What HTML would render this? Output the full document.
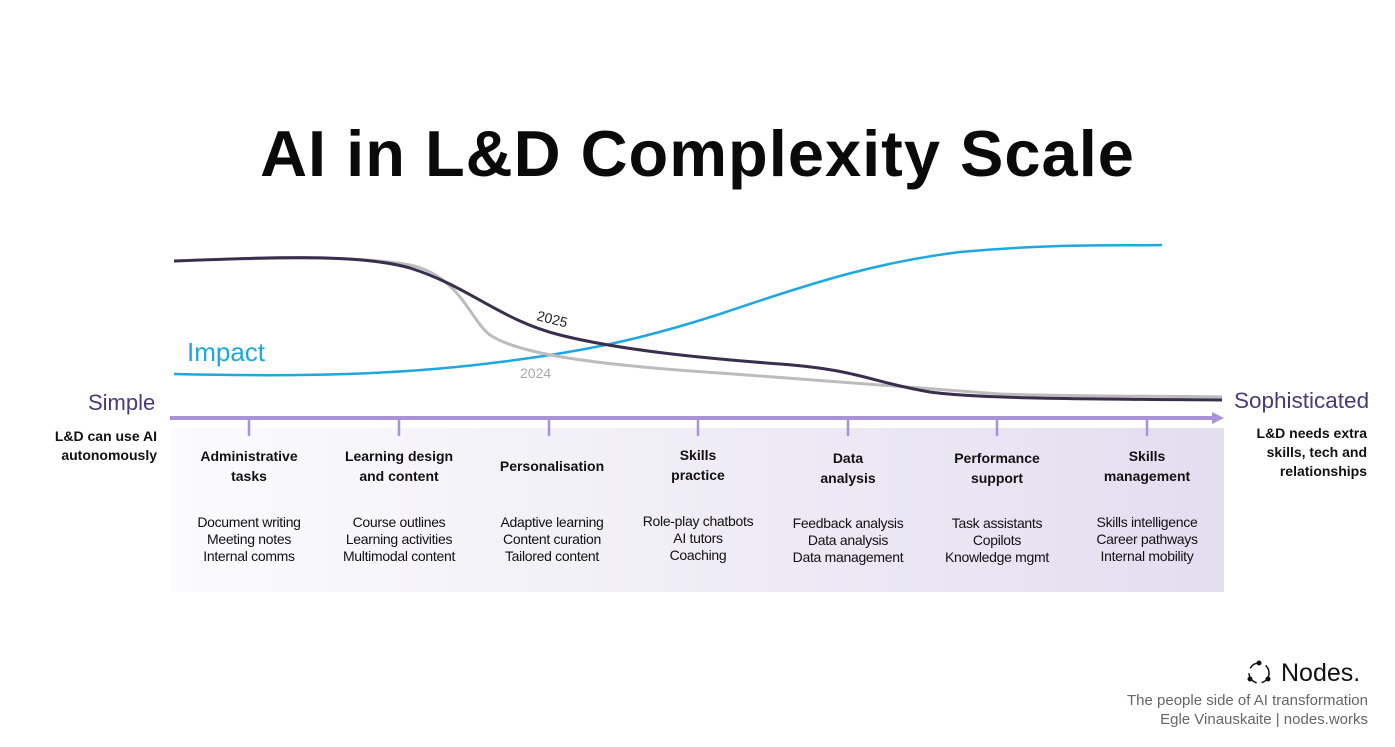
<!DOCTYPE html>
<html><head><meta charset="utf-8"><style>
body{margin:0;width:1395px;height:747px;background:#fff;position:relative;overflow:hidden;font-family:"Liberation Sans",sans-serif}
.a{position:absolute}
.h{font-weight:bold;font-size:14px;color:#111;text-align:center;line-height:20px;width:150px}
.i{font-size:14px;color:#111;text-align:center;line-height:17px;width:150px;letter-spacing:-0.3px}
</style></head><body>
<div class="a" style="left:0;width:1395px;top:116px;text-align:center;font-size:65px;font-weight:bold;color:#0a0a0a;letter-spacing:1px">AI in L&amp;D Complexity Scale</div>
<div class="a" style="left:170px;top:428px;width:1054px;height:164px;background:linear-gradient(90deg,#fbfbfd,#e3def0)"></div>
<svg class="a" style="left:0;top:0" width="1395" height="747">
<path d="M174,374 C300,377 400,375 500,362 C580,352 640,340 720,314 C820,280 880,262 960,252 C1060,243 1120,246 1162,245" fill="none" stroke="#1ea7e1" stroke-width="2.5"/>
<path d="M174,261 C280,257 360,256 410,265 C460,276 470,320 490,335 C520,355 600,365 720,373 C850,383 950,390 1000,394 C1100,397 1180,396 1222,397" fill="none" stroke="#bcbcbc" stroke-width="3"/>
<path d="M174,261 C280,257 360,254 410,268 C470,287 500,320 560,335 C620,350 700,358 780,364 C860,370 870,382 930,392 C980,399 1100,399 1222,400" fill="none" stroke="#3a2e4e" stroke-width="3"/>
<line x1="170" y1="418" x2="1214" y2="418" stroke="#a793d6" stroke-width="4"/>
<polygon points="1212,412 1224,418 1212,424" fill="#a793d6"/>
<g stroke="#a793d6" stroke-width="2.5"><line x1="249" y1="418" x2="249" y2="436"/><line x1="399" y1="418" x2="399" y2="436"/><line x1="549" y1="418" x2="549" y2="436"/><line x1="698" y1="418" x2="698" y2="436"/><line x1="848" y1="418" x2="848" y2="436"/><line x1="997" y1="418" x2="997" y2="436"/><line x1="1147" y1="418" x2="1147" y2="436"/></g>
<text x="536" y="320" font-size="14" fill="#222" transform="rotate(14 536 320)">2025</text>
<text x="520" y="378" font-size="14" fill="#aaa">2024</text>
<circle cx="1259" cy="673" r="10" fill="none" stroke="#111" stroke-width="1.5" stroke-dasharray="13 5"/>
<circle cx="1259" cy="663" r="2.5" fill="#111"/><circle cx="1250" cy="679" r="2.5" fill="#111"/><circle cx="1268" cy="679" r="2.5" fill="#111"/>
</svg>
<div class="a" style="left:187px;top:337px;font-size:26px;color:#1ea7e1">Impact</div>
<div class="a" style="left:88px;top:390px;font-size:22px;color:#4a3a78">Simple</div>
<div class="a" style="left:1234px;top:388px;font-size:22.5px;color:#4a3a78">Sophisticated</div>
<div class="a" style="left:20px;top:427px;width:137px;text-align:right;font-weight:bold;font-size:14px;line-height:19px;color:#111">L&amp;D can use AI autonomously</div>
<div class="a" style="left:1222px;top:424px;width:145px;text-align:right;font-weight:bold;font-size:14px;line-height:19px;color:#111">L&amp;D needs extra skills, tech and relationships</div>
<div class="a h" style="left:174px;top:446px">Administrative<br>tasks</div>
<div class="a h" style="left:324px;top:446px">Learning design<br>and content</div>
<div class="a h" style="left:477px;top:456px">Personalisation</div>
<div class="a h" style="left:623px;top:445px">Skills<br>practice</div>
<div class="a h" style="left:773px;top:448px">Data<br>analysis</div>
<div class="a h" style="left:922px;top:448px">Performance<br>support</div>
<div class="a h" style="left:1072px;top:446px">Skills<br>management</div>
<div class="a i" style="left:174px;top:514px">Document writing<br>Meeting notes<br>Internal comms</div>
<div class="a i" style="left:324px;top:514px">Course outlines<br>Learning activities<br>Multimodal content</div>
<div class="a i" style="left:477px;top:514px">Adaptive learning<br>Content curation<br>Tailored content</div>
<div class="a i" style="left:623px;top:513px">Role-play chatbots<br>AI tutors<br>Coaching</div>
<div class="a i" style="left:773px;top:515px">Feedback analysis<br>Data analysis<br>Data management</div>
<div class="a i" style="left:922px;top:515px">Task assistants<br>Copilots<br>Knowledge mgmt</div>
<div class="a i" style="left:1072px;top:514px">Skills intelligence<br>Career pathways<br>Internal mobility</div>
<div class="a" style="left:1281px;top:659px;font-size:25px;color:#111">Nodes.</div>
<div class="a" style="left:1040px;top:691px;width:328px;text-align:right;font-size:15px;line-height:19px;color:#666">The people side of AI transformation<br>Egle Vinauskaite | nodes.works</div>
</body></html>
